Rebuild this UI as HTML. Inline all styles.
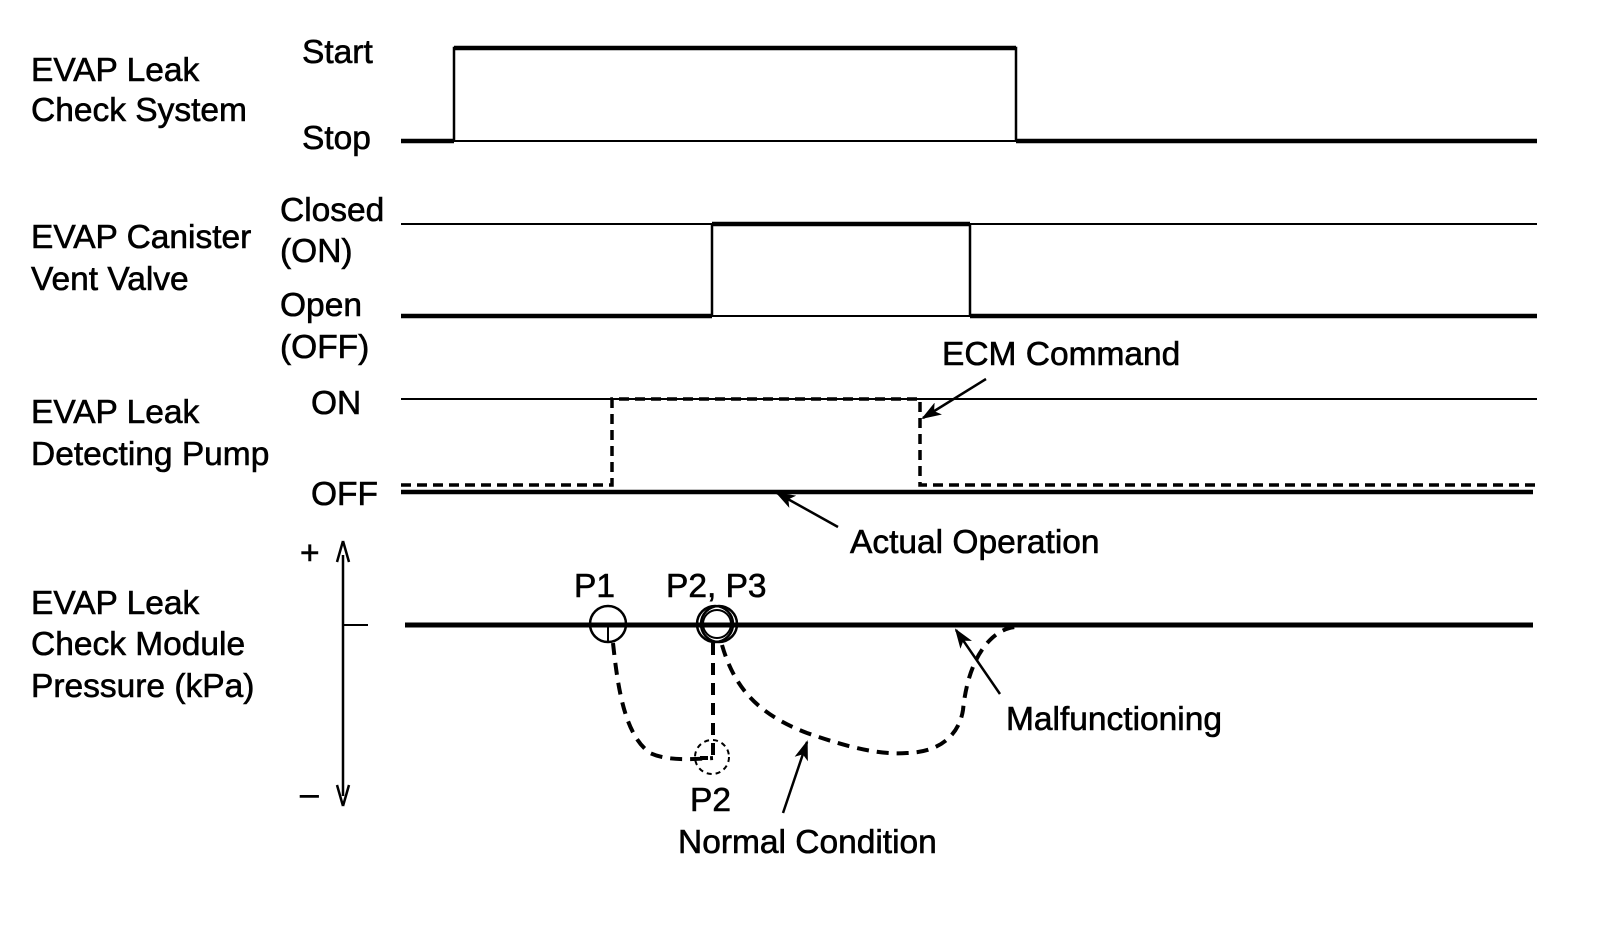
<!DOCTYPE html>
<html><head><style>body{margin:0;background:#fff}svg{display:block}text{font-family:"Liberation Sans",Arial,sans-serif;font-size:33.5px;fill:#000;stroke:#000;stroke-width:0.6}</style></head>
<body>
<svg width="1600" height="946" viewBox="0 0 1600 946" xmlns="http://www.w3.org/2000/svg">
<defs>
<marker id="ah2" markerWidth="20" markerHeight="14" refX="18" refY="7" orient="auto" markerUnits="userSpaceOnUse"><path d="M0,0 L20,7 L0,14 L5,7 Z" fill="#000"/></marker></defs>
<g fill="none" stroke="#000">
<path d="M401,141 H454" stroke-width="4.5"/>
<path d="M454,141 V48 H1016 V141" stroke-width="2.5"/>
<path d="M454,48 H1016" stroke-width="4.5"/>
<path d="M454,141 H1016" stroke-width="2"/>
<path d="M1016,141 H1537" stroke-width="4.5"/>
<path d="M401,224 H1537" stroke-width="2"/>
<path d="M712,224 H970" stroke-width="4.5"/>
<path d="M401,316 H712 M970,316 H1537" stroke-width="4.5"/>
<path d="M712,316 H970" stroke-width="2"/>
<path d="M712,316 V224 M970,224 V316" stroke-width="2.5"/>
<path d="M401,399 H1537" stroke-width="2"/>
<path d="M401,485 H612 V399 H920 V485 H1537" stroke-width="3.5" stroke-dasharray="10,6"/>
<path d="M401,492 H1533" stroke-width="4.5"/>
<path d="M986,379 L923,418" stroke-width="2.5" marker-end="url(#ah2)"/>
<path d="M838,527 L777,493" stroke-width="2.5" marker-end="url(#ah2)"/>
<path d="M343,555 V796" stroke-width="2.5"/>
<path d="M343,541 L337,562 M343,541 L349,562 M343,806 L337,785 M343,806 L349,785" stroke-width="2.5"/>
<path d="M343,625 H368" stroke-width="2"/>
<path d="M405,625 H1533" stroke-width="5"/>
<circle cx="608" cy="624" r="18" stroke-width="2.5"/>
<circle cx="715" cy="624" r="18" stroke-width="2.5"/>
<circle cx="719" cy="624" r="18" stroke-width="2.5"/>
<circle cx="717" cy="624" r="14" stroke-width="2"/>
<path d="M608,624 V643" stroke-width="2"/>
<circle cx="712" cy="757" r="17" stroke-width="2" stroke-dasharray="5,4"/>
<path d="M613,643 C618,690 625,735 650,753 C665,760 685,760 713,758" stroke-width="4" stroke-dasharray="12,8"/>
<path d="M713,643 V758 H700" stroke-width="4" stroke-dasharray="12,8"/>
<path d="M722,645 C735,690 760,715 807,733 C850,748 880,755 907,753 C945,752 960,730 963,710 C966,680 975,655 990,640 C1000,630 1010,627 1017,627" stroke-width="4" stroke-dasharray="12,8"/>
<path d="M1000,694 L956,630" stroke-width="2.5" marker-end="url(#ah2)"/>
<path d="M783,813 L807,742" stroke-width="2.5" marker-end="url(#ah2)"/>
</g>
<text x="31" y="81">EVAP Leak</text>
<text x="31" y="121">Check System</text>
<text x="302" y="63">Start</text>
<text x="302" y="149">Stop</text>
<text x="31" y="248">EVAP Canister</text>
<text x="31" y="290">Vent Valve</text>
<text x="280" y="221">Closed</text>
<text x="280" y="262">(ON)</text>
<text x="280" y="316">Open</text>
<text x="280" y="358">(OFF)</text>
<text x="942" y="365">ECM Command</text>
<text x="311" y="414">ON</text>
<text x="311" y="505">OFF</text>
<text x="31" y="423">EVAP Leak</text>
<text x="31" y="465">Detecting Pump</text>
<text x="850" y="553">Actual Operation</text>
<text x="300" y="564">+</text>
<text x="300" y="805">–</text>
<text x="574" y="597">P1</text>
<text x="666" y="597">P2, P3</text>
<text x="31" y="614">EVAP Leak</text>
<text x="31" y="655">Check Module</text>
<text x="31" y="697">Pressure (kPa)</text>
<text x="1006" y="730">Malfunctioning</text>
<text x="690" y="811">P2</text>
<text x="678" y="853">Normal Condition</text>
</svg>
</body></html>
